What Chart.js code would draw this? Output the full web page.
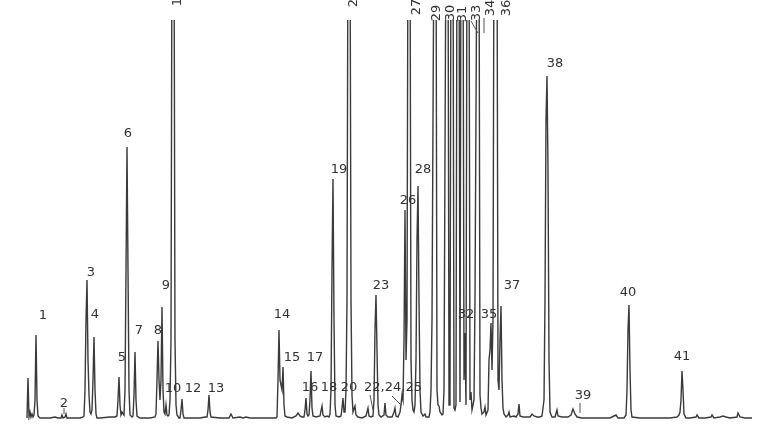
<!DOCTYPE html>
<html>
<head>
<meta charset="utf-8">
<script src="https://cdn.jsdelivr.net/npm/chart.js@4.4.0/dist/chart.umd.min.js"></script>
<style>
  html, body { margin: 0; padding: 0; background: #ffffff; }
  #wrap { width: 768px; height: 432px; position: relative; }
</style>
</head>
<body>
<div id="wrap"><canvas id="c" width="768" height="432"></canvas></div>
<script>
// Chromatogram trace: [retention time (a.u.), detector signal (a.u.)]
const tracePoints = [
  [27,2],[28,42],[29,3],[30,8],[31,3],[32,6],[33,3],[34,5],[35,20],[36,85],[37,20],[38,4],[40,2],[50,2],[55,3],[58,2],
  [61,2],[62,5],[63,2],[65,3],[66,6],[67,2],[70,2],[75,2],[80,2],[83,3],[84,4],[85,30],[86,100],[87,140],[88,60],[89,25],
  [90,8],[91,6],[92,10],[93,40],[94,83],[95,30],[96,6],[97,2],[100,2],[110,3],[115,3],[117,4],[118,20],[119,43],[120,15],
  [121,5],[122,8],[124,5],[125,30],[126,150],[127,273],[128,150],[129,30],[130,5],[132,3],[133,4],[134,25],[135,68],[136,20],
  [137,4],[140,2],[150,2],[155,3],[156,6],[157,40],[158,79],[159,40],[160,20],[161,40],[162,113],[163,30],[164,8],[165,6],
  [166,15],[167,5],[168,4],[169,5],[170,20],[171,80],[172,500],[174,500],[175,80],[176,15],[177,5],[179,2],[180,2],[181,10],
  [182,21],[183,6],[184,2],[190,2],[200,2],[205,3],[207,3],[208,10],[209,25],[210,8],[211,3],[220,2],[229,2],[231,6],[233,2],
  [240,3],[243,2],[246,3],[250,2],[260,2],[270,2],[276,2],[277,3],[278,40],[279,90],[280,40],[281,35],[282,30],[283,53],
  [284,15],[285,4],[287,3],[292,2],[296,4],[298,7],[300,4],[302,3],[304,3],[305,10],[306,22],[307,6],[308,4],[309,5],[310,20],
  [311,49],[312,12],[313,4],[316,3],[320,4],[322,14],[323,5],[325,3],[327,4],[329,3],[330,6],[331,30],[332,150],[333,241],
  [334,100],[335,15],[336,4],[339,3],[341,4],[342,12],[343,22],[344,8],[345,8],[346,30],[347,120],[348,500],[350,500],
  [351,120],[352,25],[353,8],[355,14],[356,5],[358,3],[362,2],[366,4],[368,12],[369,4],[371,3],[373,4],[374,20],[375,90],
  [376,125],[377,70],[378,15],[379,5],[381,3],[384,5],[385,17],[386,5],[388,3],[392,3],[394,8],[395,12],[396,4],[398,3],
  [400,8],[401,15],[402,25],[403,20],[404,80],[405,210],[406,60],[407,100],[408,500],[410,500],[411,60],[412,20],[413,10],
  [414,8],[415,15],[416,60],[417,180],[418,234],[419,120],[420,30],[421,8],[423,4],[425,6],[426,3],[429,3],[430,8],[431,30],
  [432,100],[434,500],[436,500],[437,30],[438,15],[439,14],[440,8],[442,5],[443,6],[444,30],[446,500],[448,500],[449,15],
  [450,15],[451,500],[453,500],[454,12],[455,10],[456,15],[457,500],[459,500],[460,18],[461,500],[463,500],[464,40],[465,87],
  [466,15],[467,500],[469,500],[470,20],[471,28],[472,10],[474,20],[475,120],[477,500],[479,500],[480,25],[481,12],[482,6],
  [484,8],[485,13],[486,5],[488,10],[489,60],[490,70],[491,97],[492,50],[493,100],[494,500],[497,500],[498,40],[499,30],
  [500,80],[501,114],[502,40],[503,12],[504,6],[506,3],[508,5],[509,8],[510,3],[514,4],[516,3],[518,6],[519,16],[520,4],
  [523,3],[530,3],[532,6],[534,4],[537,3],[540,3],[542,4],[544,20],[545,120],[546,300],[547,344],[548,250],[549,60],[550,8],
  [552,3],[555,3],[557,10],[558,4],[562,3],[568,3],[571,5],[573,11],[575,6],[577,3],[582,2],[590,2],[600,2],[610,2],[614,4],
  [616,5],[618,2],[624,2],[626,5],[627,30],[628,90],[629,115],[630,50],[631,10],[632,3],[640,2],[650,2],[660,2],[670,2],
  [677,3],[679,5],[680,8],[681,20],[682,49],[683,30],[684,6],[686,2],[690,2],[696,3],[697,5],[699,2],[705,2],[711,3],[712,5],
  [714,2],[720,3],[723,4],[726,3],[730,2],[737,3],[738,7],[740,3],[745,2],[752,2]
];

// Peak labels: [text, time, signal level of label, rotated]
const peakLabels = [
  ["1",43,104,false],["2",64,16,false],["3",91,147,false],["4",95,105,false],["5",122,62,false],
  ["6",128,286,false],["7",139,89,false],["8",158,89,false],["9",166,134,false],["10",173,31,false],
  ["11",178,422,true],["12",193,31,false],["13",216,31,false],["14",282,105,false],["15",292,62,false],
  ["16",310,32,false],["17",315,62,false],["18",329,32,false],["19",339,250,false],["20",349,32,false],
  ["21",354,421,true],["22,24,25",393,32,false],["23",381,134,false],["26",408,219,false],
  ["27",417,413,true],["28",423,250,false],["29",437,407,true],["30",451,407,true],["31",463,406,true],
  ["32",466,105,false],["33",477,407,true],["34",491,412,true],["35",489,105,false],["36",507,412,true],
  ["37",512,134,false],["38",555,356,false],["39",583,24,false],["40",628,127,false],["41",682,63,false]
];

// Leader lines: [time1, signal1, time2, signal2]
const leaderLines = [
  [64,12,64,6],[580,17,580,7],[370,25,373,10],[392,24,401,15],[471,399,478,387],[484,402,484,387]
];

const labelPlugin = {
  id: 'peakLabels',
  afterDatasetsDraw(chart) {
    const ctx = chart.ctx;
    const xs = chart.scales.x, ys = chart.scales.y;
    ctx.save();
    ctx.strokeStyle = '#555';
    ctx.lineWidth = 1;
    leaderLines.forEach(l => {
      ctx.beginPath();
      ctx.moveTo(xs.getPixelForValue(l[0]), ys.getPixelForValue(l[1]));
      ctx.lineTo(xs.getPixelForValue(l[2]), ys.getPixelForValue(l[3]));
      ctx.stroke();
    });
    ctx.fillStyle = '#333';
    ctx.font = '13px "DejaVu Sans", Verdana, sans-serif';
    ctx.textAlign = 'center';
    ctx.textBaseline = 'middle';
    peakLabels.forEach(p => {
      const px = xs.getPixelForValue(p[1]);
      const py = ys.getPixelForValue(p[2]);
      if (p[3]) {
        ctx.save();
        ctx.translate(px, py);
        ctx.rotate(-Math.PI / 2);
        ctx.fillText(p[0], 0, 0);
        ctx.restore();
      } else {
        ctx.fillText(p[0], px, py);
      }
    });
    ctx.restore();
  }
};

new Chart(document.getElementById('c'), {
  type: 'line',
  data: {
    datasets: [{
      data: tracePoints.map(p => ({ x: p[0], y: p[1] })),
      borderColor: '#3a3a3a',
      borderWidth: 1.4,
      pointRadius: 0,
      tension: 0,
      fill: false
    }]
  },
  options: {
    responsive: false,
    animation: false,
    parsing: true,
    layout: { padding: { top: 20, bottom: 12, left: 0, right: 0 } },
    plugins: { legend: { display: false }, tooltip: { enabled: false } },
    scales: {
      x: { type: 'linear', min: 0, max: 768, display: false },
      y: { min: 0, max: 400, display: false }
    }
  },
  plugins: [labelPlugin]
});
</script>
</body>
</html>
